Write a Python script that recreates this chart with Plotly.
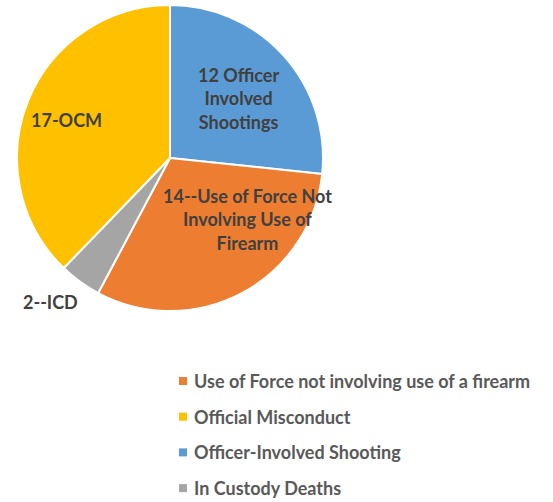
import plotly.graph_objects as go

# Case counts by category (pie drawn clockwise from 12 o'clock)
categories = ["Officer-Involved Shooting", "Use of Force not involving use of a firearm",
              "In Custody Deaths", "Official Misconduct"]
counts = [12, 14, 2, 17]
colors = ["#5B9BD5", "#ED7D31", "#A5A5A5", "#FFC000"]

# Legend listing order
legend_order = ["Use of Force not involving use of a firearm", "Official Misconduct",
                "Officer-Involved Shooting", "In Custody Deaths"]

# Slice call-out labels
slice_labels = {
    "Officer-Involved Shooting": "{} Officer<br>Involved<br>Shootings",
    "Use of Force not involving use of a firearm": "{}--Use of Force Not<br>Involving Use of<br>Firearm",
    "In Custody Deaths": "{}--ICD",
    "Official Misconduct": "{}-OCM",
}
label_pos = {
    "Officer-Involved Shooting": (238, 98),
    "Use of Force not involving use of a firearm": (247, 219),
    "In Custody Deaths": (50, 302),
    "Official Misconduct": (66, 120),
}

W, H = 553, 502
FONT = "Lato, 'Open Sans', sans-serif"


def px_x(v):
    return v / W


def px_y(v):
    return 1 - v / H


fig = go.Figure()
fig.add_trace(go.Pie(
    labels=categories, values=counts, sort=False, direction="clockwise", rotation=0,
    marker=dict(colors=colors, line=dict(color="white", width=2)),
    textinfo="none", showlegend=False, hoverinfo="label+value",
    domain=dict(x=[px_x(17), px_x(323)], y=[px_y(311), px_y(5)]),
))

# Slice call-outs
for name, cnt in zip(categories, counts):
    lx, ly = label_pos[name]
    fig.add_annotation(
        x=px_x(lx), y=px_y(ly), xref="paper", yref="paper", showarrow=False,
        text="<b>" + slice_labels[name].format(cnt) + "</b>",
        font=dict(family=FONT, size=18, color="#404040"),
        align="center", xanchor="center", yanchor="middle",
    )

# Legend block below the pie: colour square + label per row
color_of = dict(zip(categories, colors))
row_top, row_step = 381, 35.7
for i, name in enumerate(legend_order):
    cy = row_top + i * row_step
    fig.add_shape(
        type="rect", xref="paper", yref="paper",
        x0=px_x(179), x1=px_x(187), y0=px_y(cy - 4), y1=px_y(cy + 4),
        fillcolor=color_of[name], line=dict(width=0),
    )
    fig.add_annotation(
        x=px_x(192), y=px_y(cy), xref="paper", yref="paper", showarrow=False,
        text="<b>" + name + "</b>",
        font=dict(family=FONT, size=18, color="#595959"),
        xanchor="left", yanchor="middle", align="left",
    )

fig.update_layout(
    width=W, height=H, margin=dict(l=0, r=0, t=0, b=0),
    paper_bgcolor="white", plot_bgcolor="white", showlegend=False,
)

fig.write_html("out.html")
